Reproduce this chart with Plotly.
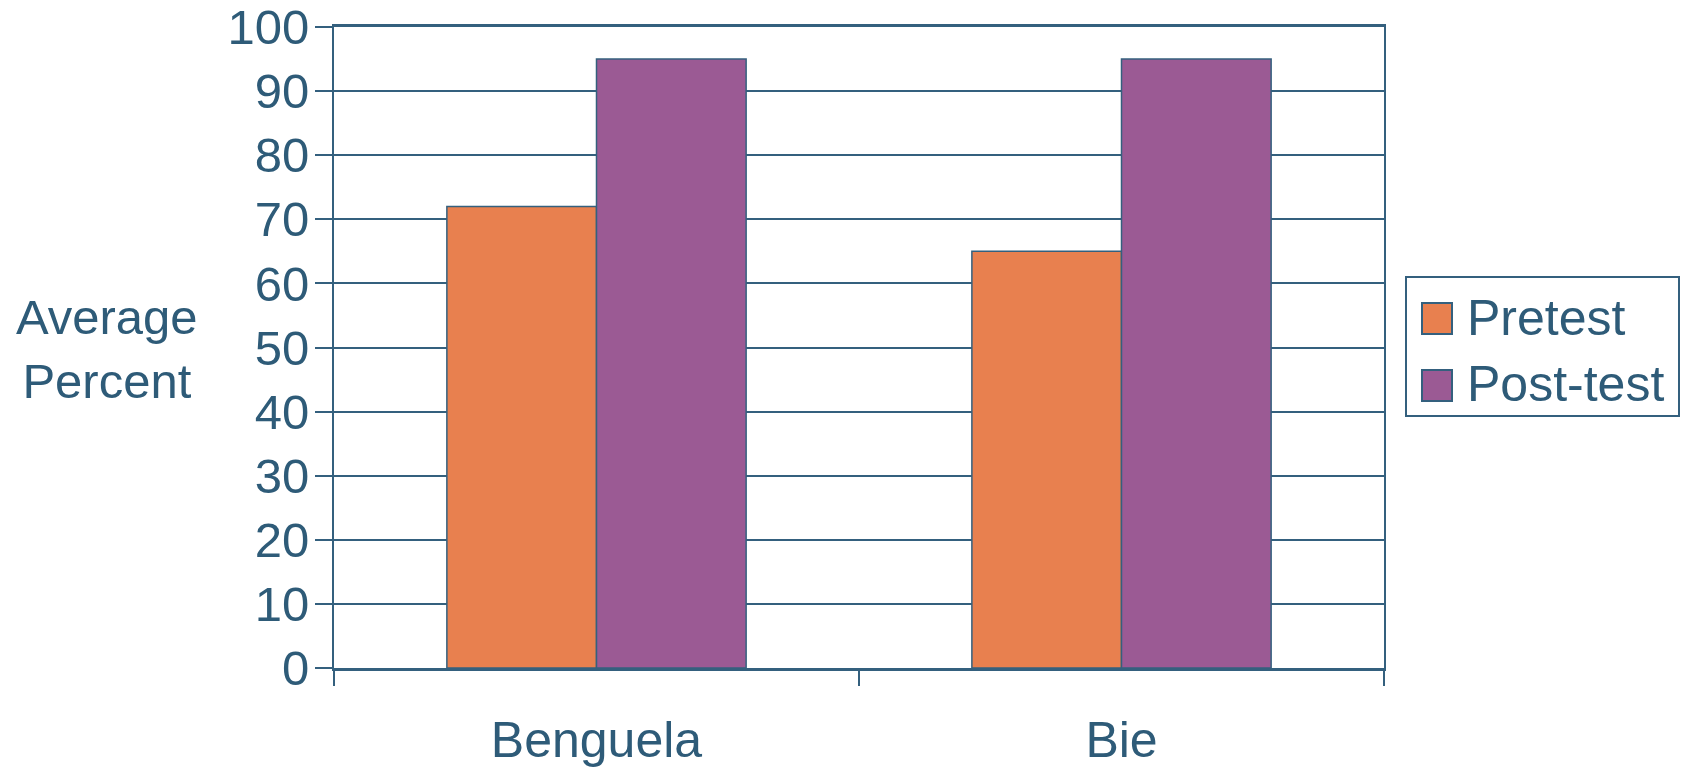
import plotly.graph_objects as go

categories = ["Benguela", "Bie"]
pretest = [72, 65]
posttest = [95, 95]
y_ticks = [0, 10, 20, 30, 40, 50, 60, 70, 80, 90, 100]
series_names = ["Pretest", "Post-test"]
series_colors = ["#E8804F", "#9B5A94"]

TEXT = "#2E5B78"
LINE = "#34607E"
FONT = "Liberation Sans, Arial, sans-serif"

fig = go.Figure()
for name, vals, col in zip(series_names, [pretest, posttest], series_colors):
    fig.add_trace(go.Bar(name=name, x=categories, y=vals, showlegend=False,
                         marker=dict(color=col, line=dict(color=LINE, width=1.5))))

# plot area in page pixels: x 334..1384, y 27..668  (height 641)
def px(x):
    return (x - 334) / 1050.0

def py(y):
    return (668 - y) / 641.0

# custom legend (large swatches like the original)
shapes = [dict(type="rect", xref="paper", yref="paper", x0=px(1406), x1=px(1679),
               y0=py(416), y1=py(277), line=dict(color=LINE, width=2),
               fillcolor="white", layer="above")]
annotations = []
sw_y = [(303, 334), (370, 401)]
tx_y = [318, 384]
for name, col, (ya, yb), ty in zip(series_names, series_colors, sw_y, tx_y):
    shapes.append(dict(type="rect", xref="paper", yref="paper", x0=px(1422), x1=px(1452),
                       y0=py(yb), y1=py(ya), fillcolor=col, line=dict(color=LINE, width=2),
                       layer="above"))
    annotations.append(dict(text=name, xref="paper", yref="paper", x=px(1465), y=py(ty),
                            xanchor="left", yanchor="middle", showarrow=False,
                            font=dict(size=50, color=TEXT)))

annotations.append(dict(text="Average<br>Percent", xref="paper", yref="paper",
                        x=px(107), y=py(349), xanchor="center", yanchor="middle",
                        showarrow=False, font=dict(size=49, color=TEXT)))

fig.update_layout(
    width=1683, height=770,
    margin=dict(l=334, r=299, t=27, b=102, autoexpand=False),
    paper_bgcolor="white", plot_bgcolor="white",
    barmode="group", bargap=0.43, bargroupgap=0,
    font=dict(family=FONT, color=TEXT, size=48),
    showlegend=False,
    xaxis=dict(showline=True, linecolor=LINE, linewidth=2.5, mirror=True,
               ticks="outside", tickson="boundaries", ticklen=15, tickcolor=LINE,
               tickwidth=1.5, ticklabelstandoff=26, automargin=False,
               tickfont=dict(size=50, color=TEXT), showgrid=False),
    yaxis=dict(range=[0, 100], tickvals=y_ticks, showline=True, linecolor=LINE,
               linewidth=2, mirror=True, ticks="outside", ticklen=17,
               tickcolor=LINE, tickwidth=2, showgrid=True, gridcolor=LINE,
               gridwidth=2, zeroline=False, automargin=False,
               ticklabelstandoff=-4, ticklabeloverflow="allow",
               tickfont=dict(size=49, color=TEXT)),
    shapes=shapes,
    annotations=annotations,
)

fig.write_html("out.html",
               config={"displayModeBar": False},
               post_script="document.body.style.margin='0';document.body.style.overflow='hidden';")
